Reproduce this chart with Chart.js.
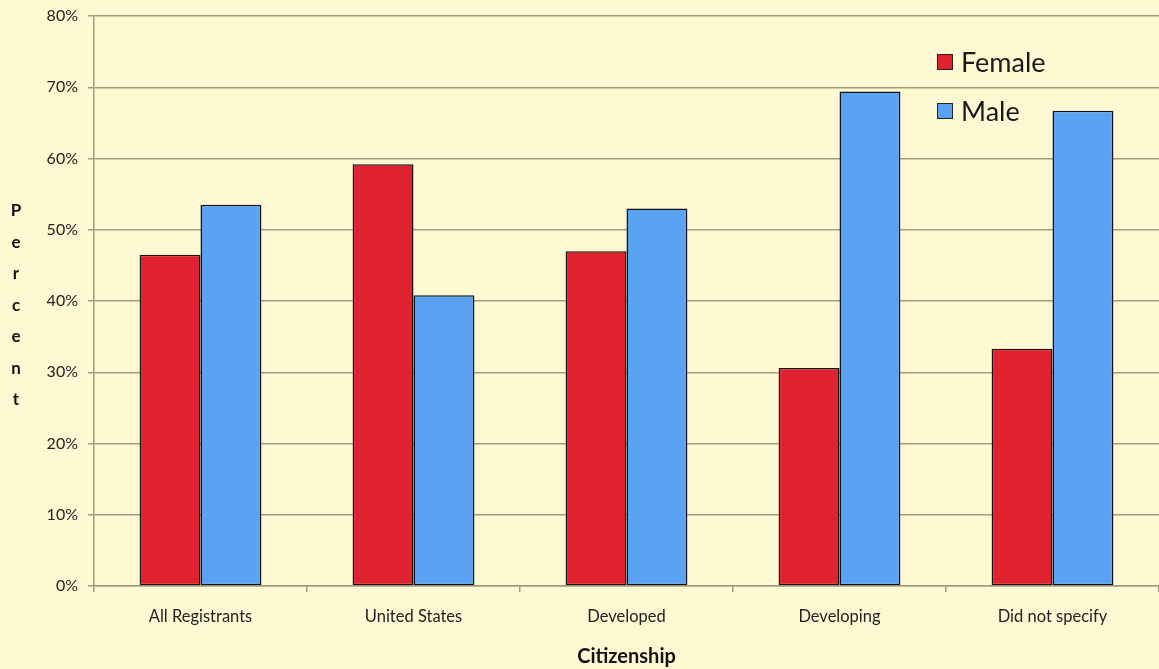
<!DOCTYPE html>
<html>
<head>
<meta charset="utf-8">
<title>Registrants by citizenship and gender</title>
<script src="https://cdn.jsdelivr.net/npm/chart.js@4.4.0/dist/chart.umd.min.js"></script>
<style>
    html, body { margin: 0; padding: 0; background: #fef9d3; }
    #wrap { position: relative; width: 1159px; height: 669px; }
</style>
</head>
<body>
<div id="wrap"><canvas id="citizenship-chart" width="1159" height="669"></canvas></div>
<script>
// Share of registrants by gender for each citizenship group (percent)
const categories = ['All Registrants', 'United States', 'Developed', 'Developing', 'Did not specify'];
const femaleValues = [46.5, 59.2, 47.0, 30.6, 33.3];
const maleValues = [53.5, 40.8, 53.0, 69.4, 66.7];
const yTicks = [0, 10, 20, 30, 40, 50, 60, 70, 80];

const FONT = 'Lato, "Open Sans", sans-serif';
const GRID = '#a29b80';

// Paint the cream background behind everything
const backgroundPlugin = {
    id: 'background',
    beforeDraw(chart) {
        const ctx = chart.ctx;
        ctx.save();
        ctx.fillStyle = '#fef9d3';
        ctx.fillRect(0, 0, chart.width, chart.height);
        ctx.restore();
    }
};

// Vertical stacked "Percent" label and the legend in the upper right
const labelsPlugin = {
    id: 'extraLabels',
    afterDraw(chart) {
        const ctx = chart.ctx;
        ctx.save();
        ctx.fillStyle = '#111';
        ctx.font = 'bold 17px ' + FONT;
        ctx.textAlign = 'center';
        ctx.textBaseline = 'middle';
        const letters = 'Percent'.split('');
        letters.forEach((ch, i) => ctx.fillText(ch, 16, 211 + i * 31.5));

        // legend
        const items = chart.data.datasets;
        ctx.font = '27px ' + FONT;
        ctx.textAlign = 'left';
        items.forEach((ds, i) => {
            const y = 62 + i * 49;
            ctx.fillStyle = ds.backgroundColor;
            ctx.fillRect(937, y - 8, 16, 16);
            ctx.strokeStyle = '#222';
            ctx.lineWidth = 1;
            ctx.strokeRect(937.5, y - 7.5, 15, 15);
            ctx.fillStyle = '#1a1a1a';
            ctx.fillText(ds.label, 961, y + 1);
        });
        ctx.restore();
    }
};

new Chart(document.getElementById('citizenship-chart'), {
    type: 'bar',
    data: {
        labels: categories,
        datasets: [
            {
                label: 'Female',
                data: femaleValues,
                backgroundColor: '#e0222e',
                borderColor: '#1a1010',
                borderWidth: 1.5,
                borderSkipped: false
            },
            {
                label: 'Male',
                data: maleValues,
                backgroundColor: '#5aa2f2',
                borderColor: '#10101a',
                borderWidth: 1.5,
                borderSkipped: false
            }
        ]
    },
    options: {
        responsive: false,
        animation: false,
        devicePixelRatio: 1,
        layout: { padding: { top: 16, right: 0, left: 0, bottom: 0 } },
        datasets: {
            bar: { barPercentage: 1, categoryPercentage: 0.572 }
        },
        plugins: {
            legend: { display: false },
            tooltip: { enabled: false }
        },
        scales: {
            x: {
                grid: { drawOnChartArea: false, drawTicks: true, tickLength: 6, color: GRID, lineWidth: 1.5 },
                border: { display: true, color: GRID, width: 1.5 },
                ticks: { color: '#222', font: { family: FONT, size: 16.5 }, padding: 15, autoSkip: false, maxRotation: 0 },
                title: {
                    display: true,
                    text: 'Citizenship',
                    color: '#111',
                    font: { family: FONT, size: 20, weight: 'bold' },
                    padding: { top: 10, bottom: 0 }
                },
                afterFit(scale) { scale.height = 83; }
            },
            y: {
                min: 0,
                max: 80,
                afterBuildTicks(scale) { scale.ticks = yTicks.map(v => ({ value: v })); },
                grid: { color: GRID, lineWidth: 1.5, tickLength: 6 },
                border: { display: true, color: GRID, width: 1.5 },
                ticks: {
                    color: '#222',
                    font: { family: FONT, size: 16 },
                    padding: 10,
                    autoSkip: false,
                    callback: v => v + '%'
                },
                afterFit(scale) {
                    scale.width = 94;
                    scale.paddingTop = 0;
                    scale.paddingBottom = 0;
                }
            }
        }
    },
    plugins: [backgroundPlugin, labelsPlugin]
});
</script>
</body>
</html>
